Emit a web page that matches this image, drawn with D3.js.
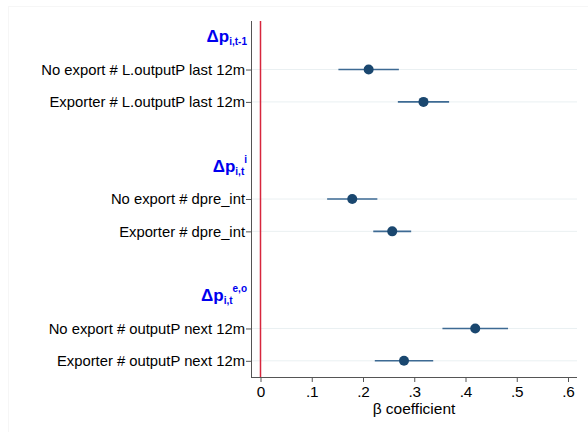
<!DOCTYPE html>
<html><head><meta charset="utf-8">
<script src="https://cdn.jsdelivr.net/npm/d3@7"></script>
<style>body{margin:0;background:#fff;} svg{display:block;font-family:"Liberation Sans",Arial,sans-serif;}</style>
</head><body>
<svg id="c" width="588" height="432"></svg>
<script>
const slots = ["h1","r1","r2","e1","h2","r3","r4","e2","h3","r5","r6"];
const rowLabels = ["No export # L.outputP last 12m","Exporter # L.outputP last 12m","No export # dpre_int","Exporter # dpre_int","No export # outputP next 12m","Exporter # outputP next 12m"];
const rowKeys = ["r1","r2","r3","r4","r5","r6"];
const estimates = [0.211,0.318,0.179,0.257,0.419,0.280];
const ciLow = [0.152,0.268,0.130,0.220,0.355,0.223];
const ciHigh = [0.270,0.368,0.228,0.294,0.483,0.337];
const headerKeys = ["h1","h2","h3"];
const headerSubs = ["i,t-1","i,t","i,t"];
const headerSups = ["","i","e,o"];
const xTicks = [0,0.1,0.2,0.3,0.4,0.5,0.6];
const xTickLabels = ["0",".1",".2",".3",".4",".5",".6"];

const svg = d3.select("#c");
const L = 251, R = 577, T = 21, B = 377;
const x = d3.scaleLinear().domain([0,0.6]).range([260.5,568]);
const y = d3.scalePoint().domain(slots).range([T,B]).padding(0.5);
const FS = 14.8;

// faint outer frame
svg.append("rect").attr("x",8.5).attr("y",6.5).attr("width",600).attr("height",440)
  .attr("fill","none").attr("stroke","#f6f6f6");

// gridlines
svg.append("g").selectAll("line").data(rowKeys).join("line")
  .attr("x1",L).attr("x2",R).attr("y1",d=>y(d)).attr("y2",d=>y(d))
  .attr("stroke","#eaf0f2").attr("stroke-width",1);

// zero line
svg.append("line").attr("x1",x(0)).attr("x2",x(0)).attr("y1",T).attr("y2",B)
  .attr("stroke","#d7263d").attr("stroke-width",1.5);

// x axis
const xa = svg.append("g").attr("transform",`translate(0,${B})`)
  .call(d3.axisBottom(x).tickValues(xTicks).tickFormat((d,i)=>xTickLabels[i]).tickSize(5).tickSizeOuter(0));
xa.select(".domain").attr("d",`M${L},0.5H${R}`).attr("stroke","#555");
xa.selectAll(".tick line").attr("stroke","#555");
xa.selectAll(".tick text").attr("font-size",FS+0.5).attr("fill","#000").attr("font-family","Liberation Sans, Arial, sans-serif").attr("dy","0.8em");

// y axis
const ya = svg.append("g").attr("transform",`translate(${L},0)`)
  .call(d3.axisLeft(y).tickValues(rowKeys).tickFormat((d,i)=>rowLabels[i]).tickSize(5).tickSizeOuter(0).tickPadding(1));
ya.select(".domain").attr("d",`M0.5,${T}V${B}`).attr("stroke","#555");
ya.selectAll(".tick line").attr("stroke","#555");
ya.selectAll(".tick text").attr("font-size",FS).attr("fill","#000").attr("font-family","Liberation Sans, Arial, sans-serif");

// headers
const hg = svg.append("g").selectAll("text").data(headerKeys).join("text")
  .attr("x",L-4).attr("y",d=>y(d)+5).attr("text-anchor","end")
  .attr("fill","#0000ee").attr("font-weight","bold").attr("font-size",17);
hg.each(function(d,i){
  const t = d3.select(this);
  t.append("tspan").text("Δp");
  t.append("tspan").attr("font-size",10).attr("dy",3).text(headerSubs[i]);
  if (headerSups[i]) {
    t.append("tspan").attr("font-size",10).attr("dy",-12).text(headerSups[i]);
  }
});

// CIs
svg.append("g").selectAll("line").data(rowKeys).join("line")
  .attr("x1",(d,i)=>x(ciLow[i])).attr("x2",(d,i)=>x(ciHigh[i]))
  .attr("y1",d=>y(d)).attr("y2",d=>y(d))
  .attr("stroke","#3d6a93").attr("stroke-width",1.6);
// points
svg.append("g").selectAll("circle").data(rowKeys).join("circle")
  .attr("cx",(d,i)=>x(estimates[i])).attr("cy",d=>y(d)).attr("r",5)
  .attr("fill","#1a476f");

// x title
svg.append("text").attr("x",(L+R)/2).attr("y",414).attr("text-anchor","middle")
  .attr("font-size",FS+0.7).text("β coefficient");
</script>
</body></html>
